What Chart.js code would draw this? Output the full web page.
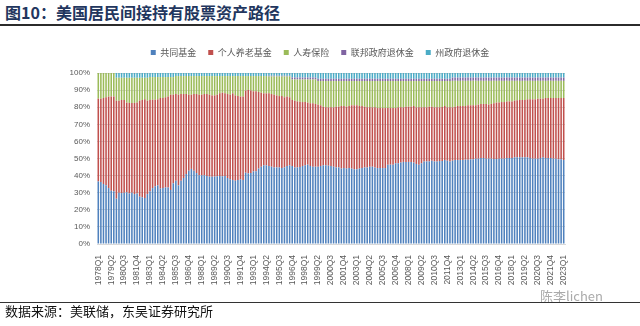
<!DOCTYPE html>
<html>
<head>
<meta charset="utf-8">
<script src="https://cdn.jsdelivr.net/npm/chart.js@4.4.0/dist/chart.umd.min.js"></script>
<style>
  html, body { margin: 0; padding: 0; background: #fff; }
  #page { position: relative; width: 640px; height: 326px; overflow: hidden; font-family: "Noto Sans CJK SC", sans-serif; }
  #title { position: absolute; left: 5px; top: 2px; font-size: 16px; font-weight: bold; color: #22365e; line-height: 20px; white-space: nowrap; }
  #topRule { position: absolute; left: 0; top: 24px; width: 640px; height: 2px; background: #2b2b2b; }
  #box { position: absolute; left: 0; top: 30px; width: 640px; height: 260px; }
  #bottomRule { position: absolute; left: 0; top: 302px; width: 640px; height: 1px; background: #333; }
  #source { position: absolute; left: 5px; top: 303px; font-size: 13px; line-height: 15px; color: #111; white-space: nowrap; }
  #mark { position: absolute; left: 540px; top: 288px; font-size: 13px; line-height: 15px; color: #aaa; white-space: nowrap; }
</style>
</head>
<body>
<div id="page">
  <div id="title">图10：美国居民间接持有股票资产路径</div>
  <div id="topRule"></div>
  <div id="box"><canvas id="chart" width="640" height="260"></canvas></div>
  <div id="mark">陈李lichen</div>
  <div id="bottomRule"></div>
  <div id="source">数据来源：美联储，东吴证券研究所</div>
</div>
<script>
//********************* data (% of total) *********************
// quarters 1978Q1 .. 2023Q1
const firstYear = 1978;
const lastYear = 2023;
const quarterNames = ['Q1', 'Q2', 'Q3', 'Q4'];
const seriesNames = ['共同基金', '个人养老基金', '人寿保险', '联邦政府退休金', '州政府退休金'];

// top of the blue part (mutual funds)
const fundTop = [
  36.6, 36.3, 35.1, 34.3, 32.7, 31.2, 30.8, 26.5, 30.0, 29.8,
  30.0, 30.2, 29.6, 30.0, 29.2, 29.6, 27.7, 27.3, 26.9, 29.2,
  30.8, 32.7, 33.7, 34.3, 32.4, 32.7, 33.1, 33.1, 31.6, 35.5,
  37.0, 34.3, 37.0, 38.6, 40.9, 42.9, 43.9, 42.9, 41.5, 40.2,
  40.2, 40.2, 39.8, 39.4, 39.4, 39.4, 39.6, 39.8, 39.6, 39.8,
  38.6, 37.8, 37.4, 37.0, 37.4, 37.8, 37.4, 41.7, 41.3, 41.5,
  42.5, 42.5, 44.1, 45.2, 46.0, 46.0, 45.6, 45.2, 44.8, 44.8,
  44.8, 44.4, 44.8, 45.6, 46.0, 45.6, 44.8, 44.8, 45.0, 45.6,
  46.0, 46.4, 45.6, 45.2, 45.2, 45.2, 45.6, 46.0, 46.0, 45.8,
  45.6, 45.2, 44.8, 44.8, 44.1, 44.4, 44.1, 44.4, 44.1, 43.7,
  43.7, 44.1, 44.4, 44.8, 44.8, 45.2, 45.2, 44.8, 44.4, 44.4,
  44.4, 44.4, 46.4, 46.4, 46.4, 47.2, 47.2, 47.6, 48.0, 48.0,
  48.0, 48.0, 47.6, 46.8, 46.4, 47.2, 48.3, 48.3, 48.3, 48.7,
  48.3, 48.3, 48.5, 48.5, 49.1, 48.7, 48.3, 48.7, 49.1, 49.1,
  49.1, 49.1, 49.3, 49.3, 49.5, 49.5, 49.9, 49.9, 50.3, 50.3,
  49.9, 49.9, 49.9, 49.7, 49.7, 49.9, 49.9, 49.9, 50.3, 50.3,
  50.3, 50.7, 50.7, 50.7, 50.7, 50.7, 50.7, 50.3, 49.9, 49.9,
  49.9, 50.3, 50.7, 50.3, 50.3, 50.3, 49.9, 49.9, 49.5, 49.5,
  49.1
];

// top of the red part (IRA), cumulative
const iraTop = [
  85.0, 85.0, 85.4, 85.8, 86.2, 86.2, 86.2, 83.8, 83.8, 84.2,
  84.2, 82.7, 82.5, 82.5, 82.5, 82.8, 83.8, 84.2, 84.6, 83.8,
  84.2, 84.4, 84.4, 84.6, 85.4, 85.4, 85.8, 86.2, 87.3, 87.3,
  87.7, 87.3, 87.7, 87.7, 87.7, 87.3, 87.3, 87.7, 87.7, 87.3,
  87.3, 87.7, 87.7, 87.3, 86.9, 86.9, 87.3, 88.1, 88.5, 88.1,
  87.7, 87.3, 88.1, 86.9, 86.5, 86.2, 86.2, 89.7, 90.1, 89.7,
  89.3, 89.3, 88.9, 88.5, 88.1, 88.1, 88.1, 87.7, 87.3, 86.9,
  86.5, 86.5, 85.8, 86.2, 85.8, 84.2, 83.8, 83.4, 83.2, 83.0,
  83.0, 82.7, 82.3, 82.3, 81.9, 81.5, 81.1, 80.3, 79.9, 79.9,
  79.9, 79.9, 80.3, 80.3, 80.7, 80.7, 80.3, 80.7, 81.1, 81.1,
  81.1, 80.7, 80.7, 80.3, 79.9, 79.9, 79.9, 79.9, 79.5, 79.5,
  79.5, 79.5, 79.5, 79.5, 79.5, 79.5, 79.9, 79.9, 79.9, 80.3,
  80.3, 80.3, 80.7, 79.9, 79.9, 79.9, 79.9, 79.9, 80.3, 80.3,
  79.9, 79.9, 79.9, 80.1, 80.7, 79.9, 79.9, 79.9, 80.3, 80.7,
  80.7, 80.7, 80.7, 81.1, 81.1, 81.1, 81.1, 81.5, 81.9, 81.9,
  81.9, 81.5, 81.9, 82.3, 82.7, 82.7, 83.0, 83.0, 83.4, 83.4,
  83.4, 83.8, 84.0, 84.2, 84.2, 84.2, 84.6, 84.6, 84.6, 84.6,
  85.0, 85.0, 85.0, 85.4, 85.4, 85.4, 85.4, 85.4, 85.4, 85.4,
  85.4
];

// top of the green part (life insurance), cumulative
const lifeTop = [
  100, 100, 100, 100, 100, 100, 100, 97.2, 97.2, 97.2,
  97.2, 97.2, 97.2, 97.2, 97.2, 97.2, 97.2, 97.2, 97.2, 97.2,
  97.6, 97.6, 97.6, 97.6, 97.6, 97.6, 97.6, 97.6, 97.6, 97.6,
  98.2, 98.2, 98.2, 98.2, 98.2, 98.2, 98.2, 98.2, 98.2, 98.2,
  98.2, 98.2, 98.2, 98.2, 98.2, 98.2, 98.2, 98.2, 98.2, 98.2,
  98.2, 98.2, 98.2, 98.2, 98.2, 98.2, 98.2, 98.2, 98.2, 98.2,
  98.2, 98.2, 98.2, 98.2, 98.2, 98.2, 98.0, 98.0, 98.0, 98.0,
  98.0, 98.0, 98.0, 98.0, 98.0, 96.2, 96.2, 96.2, 96.2, 96.2,
  96.2, 96.2, 96.2, 96.2, 96.2, 95.3, 95.3, 95.3, 95.3, 95.3,
  95.3, 95.3, 95.3, 95.3, 95.3, 95.3, 95.3, 95.3, 95.3, 95.3,
  95.3, 95.3, 95.3, 95.3, 95.3, 95.3, 95.3, 95.3, 95.3, 95.3,
  95.3, 95.3, 95.3, 95.3, 95.3, 95.3, 95.3, 95.3, 95.3, 95.3,
  95.3, 95.3, 95.3, 95.3, 95.3, 95.3, 95.3, 95.3, 95.3, 95.3,
  95.3, 95.3, 95.3, 95.3, 95.3, 95.3, 95.3, 95.4, 95.4, 95.4,
  95.4, 95.4, 95.4, 95.4, 95.4, 95.4, 95.4, 95.4, 95.4, 95.4,
  95.4, 95.4, 95.4, 95.4, 95.4, 95.4, 95.4, 95.4, 95.4, 95.4,
  95.4, 95.4, 95.4, 95.4, 95.4, 95.4, 95.4, 95.4, 95.4, 95.4,
  95.4, 95.4, 95.4, 95.4, 95.4, 95.4, 95.4, 95.4, 95.4, 95.4,
  95.4
];

// top of the purple part (federal retirement), cumulative; state retirement fills to 100
const fedTop = [
  100, 100, 100, 100, 100, 100, 100, 97.2, 97.2, 97.2,
  97.2, 97.2, 97.2, 97.2, 97.2, 97.2, 97.2, 97.2, 97.2, 97.2,
  97.6, 97.6, 97.6, 97.6, 97.6, 97.6, 97.6, 97.6, 97.6, 97.6,
  98.2, 98.2, 98.2, 98.2, 98.2, 98.2, 98.2, 98.2, 98.2, 98.2,
  98.2, 98.2, 98.2, 98.2, 98.2, 98.2, 98.2, 98.2, 98.2, 98.2,
  98.2, 98.2, 98.2, 98.2, 98.2, 98.2, 98.2, 98.2, 98.2, 98.2,
  98.2, 98.2, 98.2, 98.2, 98.2, 98.2, 98.4, 98.4, 98.4, 98.4,
  98.4, 98.4, 98.4, 98.4, 98.4, 97.3, 97.3, 97.3, 97.3, 97.3,
  97.3, 97.3, 97.3, 97.3, 97.3, 96.6, 96.6, 96.6, 96.6, 96.6,
  96.6, 96.6, 96.6, 96.6, 96.6, 96.6, 96.6, 96.6, 96.6, 96.6,
  96.6, 96.6, 96.6, 96.6, 96.6, 96.6, 96.6, 96.6, 96.6, 96.6,
  96.6, 96.6, 96.6, 96.6, 96.6, 96.6, 96.6, 96.6, 96.6, 96.6,
  96.6, 96.6, 96.6, 96.6, 96.6, 96.6, 96.6, 96.6, 96.6, 96.6,
  96.6, 96.6, 96.6, 96.6, 96.6, 96.6, 96.6, 97.3, 97.3, 97.3,
  97.3, 97.3, 97.3, 97.3, 97.3, 97.3, 97.3, 97.3, 97.3, 97.3,
  97.3, 97.3, 97.3, 97.3, 97.3, 97.3, 97.3, 97.3, 97.3, 97.3,
  97.3, 97.3, 97.3, 97.3, 97.3, 97.3, 97.3, 97.3, 97.3, 97.3,
  97.3, 97.3, 97.3, 97.3, 97.3, 97.3, 97.3, 97.3, 97.3, 97.3,
  97.3
];

const yTicks = [0, 10, 20, 30, 40, 50, 60, 70, 80, 90, 100];
const seriesColors = ['#4F81BD', '#C0504D', '#9BBB59', '#8064A2', '#4BACC6'];

//********************* build labels and datasets *********************
const quarterLabels = [];
for (let y = firstYear; y <= lastYear; y++) {
  quarterNames.forEach(q => {
    if (y < lastYear || q === 'Q1') quarterLabels.push(y + q);
  });
}

// each band is a floating bar [bottom, top]
const bands = [
  fundTop.map(v => [0, v]),
  fundTop.map((v, i) => [v, iraTop[i]]),
  iraTop.map((v, i) => [v, lifeTop[i]]),
  lifeTop.map((v, i) => [v, fedTop[i]]),
  fedTop.map(v => [v, 100])
];

const datasets = bands.map((band, k) => ({
  label: seriesNames[k],
  data: band,
  backgroundColor: seriesColors[k],
  borderWidth: 0,
  barPercentage: 0.6,
  categoryPercentage: 1
}));

// fixed room for the legend above the plot
const legendSpace = {
  id: 'legendSpace',
  beforeInit(chart) {
    const fit = chart.legend.fit;
    chart.legend.fit = function () {
      fit.call(this);
      this.height = 37;
    };
  }
};

new Chart(document.getElementById('chart'), {
  type: 'bar',
  data: { labels: quarterLabels, datasets: datasets },
  options: {
    responsive: false,
    animation: false,
    layout: { padding: { left: 0, right: 0, top: 6, bottom: 0 } },
    plugins: {
      legend: {
        position: 'top',
        labels: {
          boxWidth: 5,
          boxHeight: 5,
          padding: 12,
          color: '#595959',
          font: { family: '"Noto Sans CJK SC", sans-serif', size: 9 }
        }
      },
      tooltip: { enabled: false }
    },
    scales: {
      x: {
        stacked: true,
        grid: { display: false },
        border: { color: '#D9D9D9' },
        afterFit: scale => { scale.height = 46; },
        ticks: {
          autoSkip: false,
          minRotation: 90,
          maxRotation: 90,
          padding: 3,
          color: '#595959',
          font: { family: '"Liberation Sans", sans-serif', size: 8.5 },
          callback: (val, idx) => (idx % 5 === 0 ? quarterLabels[idx] : '')
        }
      },
      y: {
        min: 0,
        max: 100,
        afterFit: scale => { scale.width = 97; },
        afterBuildTicks: scale => { scale.ticks = yTicks.map(v => ({ value: v })); },
        grid: { color: '#D9D9D9', drawTicks: false },
        border: { display: false },
        ticks: {
          padding: 7,
          color: '#595959',
          font: { family: '"Liberation Sans", sans-serif', size: 8 },
          callback: v => v + '%'
        }
      },
      // empty right-hand margin so the legend centres on the whole page
      yRight: {
        position: 'right',
        min: 0,
        max: 100,
        afterFit: scale => { scale.width = 75; },
        grid: { display: false },
        border: { display: false },
        ticks: { display: false }
      }
    }
  },
  plugins: [legendSpace]
});
</script>
</body>
</html>
